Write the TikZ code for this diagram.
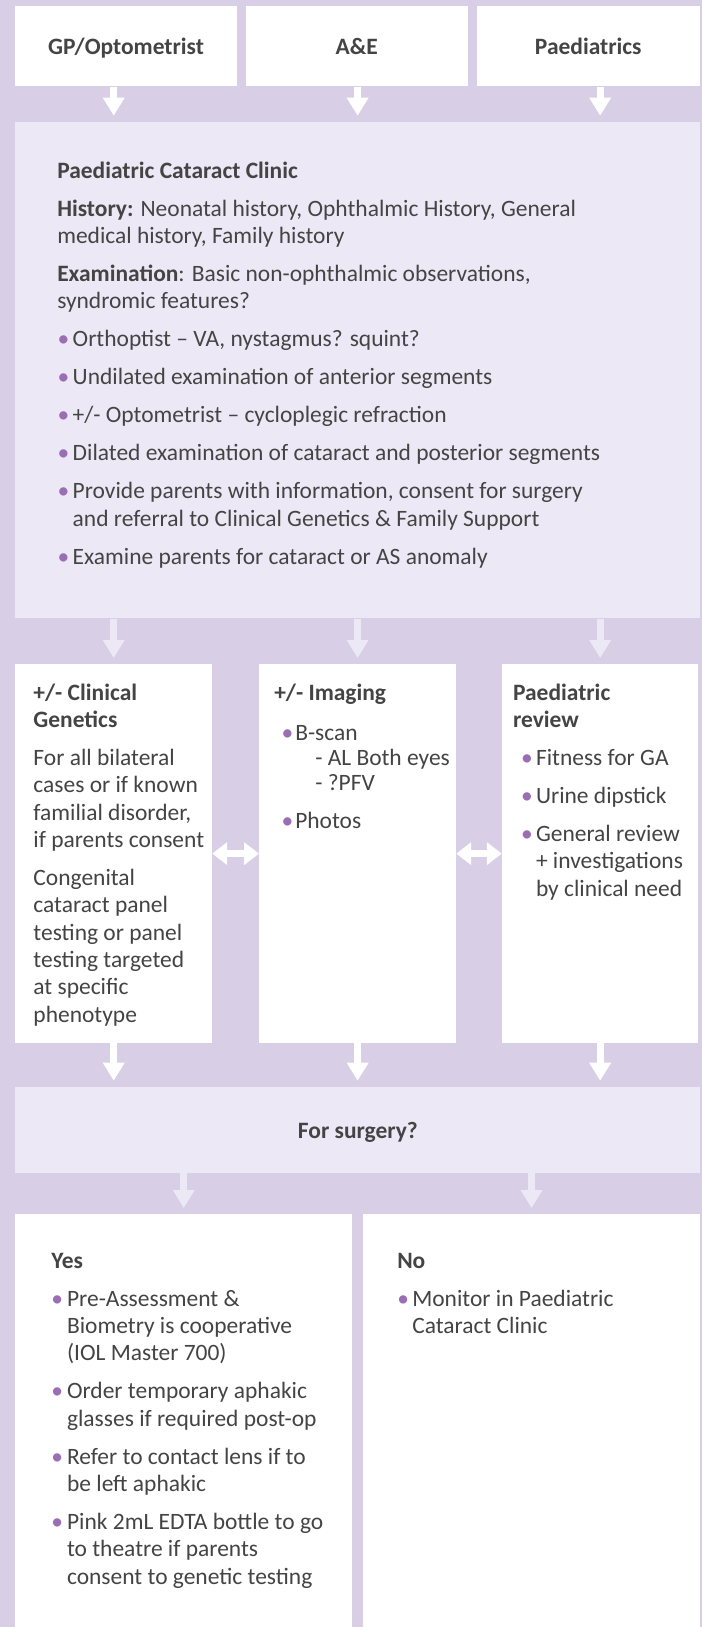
\documentclass[tikz,border=0pt]{standalone}
\usepackage{fontspec}
\setmainfont{Carlito}
\usepackage{tikz}
\usetikzlibrary{calc}
\usetikzlibrary{positioning}
\usetikzlibrary{arrows.meta}

\definecolor{bgpurple}{HTML}{D8CFE6}
\definecolor{lightpurple}{HTML}{EDE8F5}
\definecolor{textgrey}{HTML}{444444}
\definecolor{dotpurple}{HTML}{9B6DB3}

\newlength{\bulhang}
\newlength{\bulpre}
\newcommand{\bul}[1]{\par\hangindent=\bulhang\hangafter=1\noindent\makebox[\bulhang][l]{\hspace{\bulpre}\textcolor{dotpurple}{\textbullet}}#1}
\newcommand{\boxtext}[2]{\begin{minipage}[t]{#1}\fontsize{17.6}{20.5}\selectfont\raggedright\parskip=8pt #2\end{minipage}}

\tikzset{
  whitebox/.style={rectangle, fill=white, inner sep=0pt, anchor=north west},
  lightbox/.style={rectangle, fill=lightpurple, inner sep=0pt, anchor=north west},
  boxlabel/.style={anchor=base west, inner sep=0pt},
  flow/.style={line width=5.25pt, -{Triangle[width=15.5pt,length=13.5pt]}, shorten >=4.5pt},
  flowwhite/.style={flow, draw=white},
  flowlight/.style={flow, draw=lightpurple},
  twoway/.style={line width=5pt, draw=white, {Triangle[width=16.5pt,length=11.25pt]}-{Triangle[width=16.5pt,length=11.25pt]}}
}

\begin{document}
\begin{tikzpicture}[x=0.75pt, y=-0.75pt, font=\fontsize{17.6}{20.5}\selectfont, text=textgrey]

\fill[bgpurple] (0,0) rectangle (702,1627);
\useasboundingbox (0,0) rectangle (702,1627);

\node at (15.2,6)[whitebox, minimum width=221.2*0.75pt, minimum height=80*0.75pt, text depth=0pt] (gp) {\bfseries GP/Optometrist};
\node at (245.7,6)[whitebox, minimum width=221.6*0.75pt, minimum height=80*0.75pt, text depth=0pt] (ae) {\bfseries A\&E};
\node at (476.7,6)[whitebox, minimum width=222.6*0.75pt, minimum height=80*0.75pt, text depth=0pt] (paed) {\bfseries Paediatrics};

\node at (15.2,121.7)[lightbox, minimum width=684.3*0.75pt, minimum height=496.3*0.75pt] (clinic) {};
\node[boxlabel] at ($(clinic.north west)+(41.8,56.3)$) (clinictext) {\setlength{\bulhang}{11.6pt}\setlength{\bulpre}{0.3pt}%
\boxtext{480pt}{{\bfseries Paediatric Cataract Clinic}\par
{\bfseries History:} Neonatal history, Ophthalmic History, General\newline medical history, Family history\par
{\bfseries Examination}: Basic non-ophthalmic observations,\newline syndromic features?
\bul{Orthoptist – VA, nystagmus? squint?}
\bul{Undilated examination of anterior segments}
\bul{+/- Optometrist – cycloplegic refraction}
\bul{Dilated examination of cataract and posterior segments}
\bul{Provide parents with information, consent for surgery\newline and referral to Clinical Genetics \& Family Support}
\bul{Examine parents for cataract or AS anomaly}}};

\node at (15.2,664)[whitebox, minimum width=196.5*0.75pt, minimum height=378.7*0.75pt] (gen) {};
\node[boxlabel] at ($(gen.north west)+(18,36)$) (gentext) {%
\boxtext{140pt}{{\bfseries +/- Clinical\newline Genetics}\par
For all bilateral\newline cases or if known\newline familial disorder,\newline if parents consent\par
Congenital\newline cataract panel\newline testing or panel\newline testing targeted\newline at specific\newline phenotype}};

\node at (259,664)[whitebox, minimum width=196.7*0.75pt, minimum height=378.7*0.75pt] (img) {};
\node[boxlabel] at ($(img.north west)+(15,36)$) (imgtext) {\setlength{\bulhang}{15.75pt}\setlength{\bulpre}{5.5pt}%
\boxtext{140pt}{{\bfseries +/- Imaging}\par\vspace{3pt}
\bul{\baselineskip=19pt B-scan\newline\hspace*{15pt}- AL Both eyes\newline\hspace*{15pt}- ?PFV}\par\baselineskip=20.5pt
\bul{Photos}}};

\node at (501.8,664)[whitebox, minimum width=196.2*0.75pt, minimum height=378.7*0.75pt] (ped) {};
\node[boxlabel] at ($(ped.north west)+(11,36)$) (pedtext) {\setlength{\bulhang}{17.2pt}\setlength{\bulpre}{6pt}%
\boxtext{140pt}{{\bfseries Paediatric\newline review}
\bul{Fitness for GA}
\bul{Urine dipstick}
\bul{General review\newline + investigations\newline by clinical need}}};

\node at (15.2,1086.7)[lightbox, minimum width=684.8*0.75pt, minimum height=86*0.75pt, text depth=0pt] (surgery) {\bfseries For surgery?};

\node at (15.2,1214)[whitebox, minimum width=336.6*0.75pt, minimum height=413*0.75pt] (yes) {};
\node[boxlabel] at ($(yes.north west)+(36,54)$) (yestext) {\setlength{\bulhang}{11.7pt}\setlength{\bulpre}{0pt}%
\boxtext{230pt}{{\bfseries Yes}
\bul{Pre-Assessment \&\newline Biometry is cooperative\newline (IOL Master 700)}
\bul{Order temporary aphakic\newline glasses if required post-op}
\bul{Refer to contact lens if to\newline be left aphakic}
\bul{Pink 2mL EDTA bottle to go\newline to theatre if parents\newline consent to genetic testing}}};

\node at (362.6,1214)[whitebox, minimum width=337.4*0.75pt, minimum height=413*0.75pt] (no) {};
\node[boxlabel] at ($(no.north west)+(34.4,54)$) (notext) {\setlength{\bulhang}{11.25pt}\setlength{\bulpre}{0pt}%
\boxtext{230pt}{{\bfseries No}
\bul{Monitor in Paediatric\newline Cataract Clinic}}};

\draw[flowwhite] (gp.south -| gen.north) -- (clinic.north -| gen.north);
\draw[flowwhite] (ae.south -| img.north) -- (clinic.north -| img.north);
\draw[flowwhite] (paed.south -| ped.north) -- (clinic.north -| ped.north);

\draw[flowlight] (clinic.south -| gen.north) -- (gen.north);
\draw[flowlight] (clinic.south -| img.north) -- (img.north);
\draw[flowlight] (clinic.south -| ped.north) -- (ped.north);

\draw[twoway] (gen.east) -- (img.west);
\draw[twoway] (img.east) -- (ped.west);

\draw[flowwhite] (gen.south) -- (surgery.north -| gen.south);
\draw[flowwhite] (img.south) -- (surgery.north -| img.south);
\draw[flowwhite] (ped.south) -- (surgery.north -| ped.south);

\draw[flowlight] (surgery.south -| yes.north) -- (yes.north);
\draw[flowlight] (surgery.south -| no.north) -- (no.north);

\end{tikzpicture}
\end{document}
